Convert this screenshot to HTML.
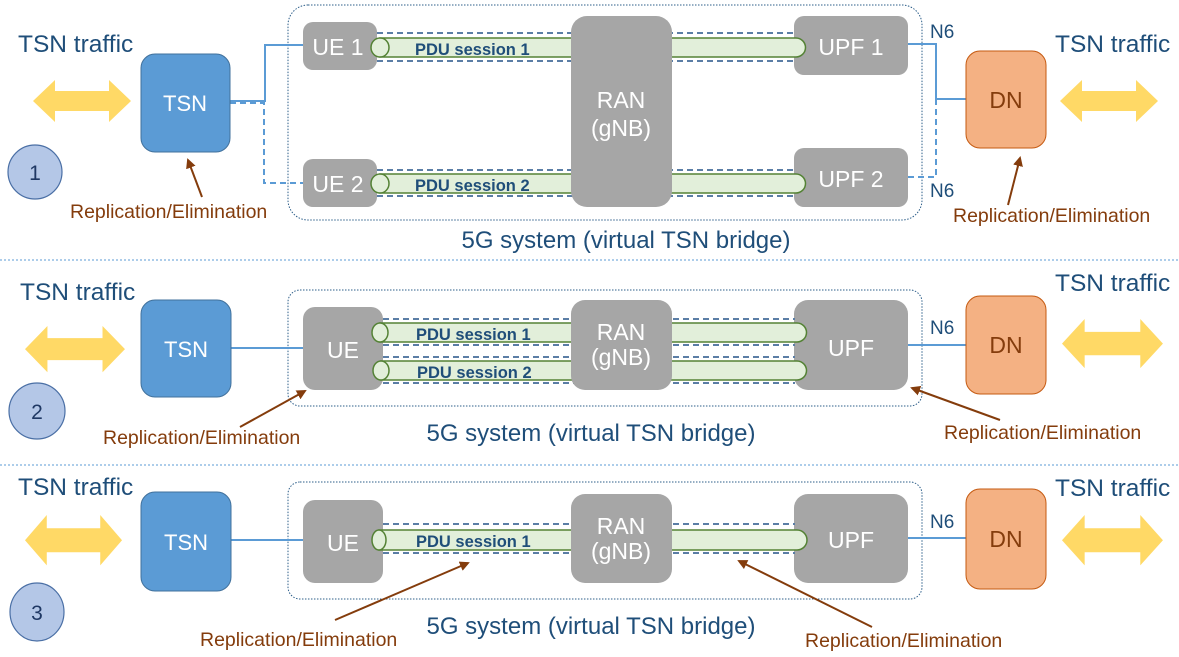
<!DOCTYPE html>
<html><head><meta charset="utf-8"><style>html,body{margin:0;padding:0;background:#fff}svg{display:block}text{font-family:"Liberation Sans",sans-serif}</style></head><body>
<svg width="1179" height="657" viewBox="0 0 1179 657" xmlns="http://www.w3.org/2000/svg">
<defs>
<marker id="ah" markerWidth="10" markerHeight="10" refX="8" refY="5" orient="auto" markerUnits="userSpaceOnUse"><path d="M0,0 L10,5 L0,10 z" fill="#843c0c"/></marker>
<g id="yarrow"><path d="M0,21 L22,0 L22,11 L76,11 L76,0 L98,21 L76,42 L76,31 L22,31 L22,42 z" fill="#ffd966"/></g>
</defs>
<g fill="#1f4e79" font-size="24.5">
<text x="18" y="52">TSN traffic</text><text x="1055" y="52">TSN traffic</text>
<text x="20" y="300">TSN traffic</text><text x="1055" y="291">TSN traffic</text>
<text x="18" y="495">TSN traffic</text><text x="1055" y="496">TSN traffic</text>
</g>
<use href="#yarrow" transform="translate(33,80)"/>
<use href="#yarrow" transform="translate(1060,80)"/>
<use href="#yarrow" transform="translate(25,326) scale(1.02,1.1)"/>
<use href="#yarrow" transform="translate(1062,319) scale(1.03,1.17)"/>
<use href="#yarrow" transform="translate(25,515) scale(0.99,1.2)"/>
<use href="#yarrow" transform="translate(1062,515) scale(1.03,1.2)"/>
<g fill="#b4c7e7" stroke="#4a6fa5" stroke-width="1.2">
<circle cx="35" cy="172" r="27"/><circle cx="37" cy="411" r="28"/><ellipse cx="37" cy="612" rx="27" ry="29"/>
</g>
<g fill="#1f3864" font-size="21" text-anchor="middle"><text x="35" y="180">1</text><text x="37" y="419">2</text><text x="37" y="620">3</text></g>
<g stroke="#5b9bd5" stroke-width="1" stroke-dasharray="2,2"><line x1="0" y1="260" x2="1179" y2="260"/><line x1="0" y1="465" x2="1179" y2="465"/></g>
<g fill="none" stroke="#2e5f8a" stroke-width="1" stroke-dasharray="1.5,1.5">
<rect x="288" y="5" width="634" height="215" rx="20"/>
<rect x="288" y="290" width="634" height="116" rx="12"/>
<rect x="288" y="482" width="634" height="117" rx="12"/>
</g>
<g fill="none" stroke="#5b9bd5" stroke-width="2">
<polyline points="230,101 265,101 265,45 303,45"/>
<polyline points="230,103 264,103 264,183 303,183" stroke-dasharray="6,4"/>
<polyline points="908,44 936,44 936,99 966,99"/>
<polyline points="908,177 936,177 936,100" stroke-dasharray="6,4"/>
<line x1="231" y1="348" x2="303" y2="348"/>
<line x1="908" y1="345" x2="966" y2="345"/>
<line x1="231" y1="540" x2="303" y2="540"/>
<line x1="908" y1="538" x2="966" y2="538"/>
</g>
<!-- UE / UPF nodes (under tubes) -->
<g fill="#a6a6a6">
<rect x="303" y="22" width="74" height="48" rx="10"/>
<rect x="303" y="159" width="74" height="48" rx="10"/>
<rect x="794" y="16" width="114" height="59" rx="10"/>
<rect x="794" y="148" width="114" height="59" rx="10"/>
<rect x="303" y="307" width="80" height="83" rx="12"/>
<rect x="794" y="300" width="114" height="90" rx="14"/>
<rect x="303" y="500" width="80" height="83" rx="12"/>
<rect x="794" y="494" width="114" height="89" rx="14"/>
</g>
<g stroke="#5b7ea6" stroke-width="2" stroke-dasharray="6,4">
<line x1="377" y1="33" x2="795" y2="33"/><line x1="377" y1="61" x2="795" y2="61"/>
<line x1="377" y1="170" x2="795" y2="170"/><line x1="377" y1="196" x2="795" y2="196"/>
<line x1="383" y1="319" x2="795" y2="319"/><line x1="383" y1="345" x2="795" y2="345"/>
<line x1="383" y1="357" x2="795" y2="357"/><line x1="383" y1="383" x2="795" y2="383"/>
<line x1="383" y1="524" x2="795" y2="524"/><line x1="383" y1="553" x2="795" y2="553"/>
</g>
<g fill="#e2efda" stroke="#548235" stroke-width="1.5">
<path d="M380,38 L796,38 A9.5,9.5 0 0 1 796,57 L380,57 z"/>
<path d="M380,174 L796,174 A9.5,9.5 0 0 1 796,193 L380,193 z"/>
<path d="M380,323 L797,323 A9.5,9.5 0 0 1 797,342 L380,342 z"/>
<path d="M381,361 L797,361 A9.5,9.5 0 0 1 797,380 L381,380 z"/>
<path d="M379,530 L797,530 A10,10 0 0 1 797,550 L379,550 z"/>
<ellipse cx="380" cy="47.5" rx="9" ry="9.5"/>
<ellipse cx="380" cy="183.5" rx="9" ry="9.5"/>
<ellipse cx="380" cy="332.5" rx="8" ry="9.5"/>
<ellipse cx="381" cy="370.5" rx="8" ry="9.5"/>
<ellipse cx="379" cy="540" rx="7" ry="10"/>
</g>
<g fill="#a6a6a6">
<rect x="571" y="16" width="101" height="191" rx="16"/>
<rect x="571" y="300" width="101" height="90" rx="14"/>
<rect x="571" y="494" width="101" height="89" rx="14"/>
</g>
<g fill="#1f4e79" font-size="16.5" font-weight="bold">
<text x="415" y="55">PDU session 1</text><text x="415" y="191">PDU session 2</text>
<text x="416" y="340">PDU session 1</text><text x="417" y="378">PDU session 2</text>
<text x="416" y="547">PDU session 1</text>
</g>
<g fill="#5b9bd5" stroke="#41719c" stroke-width="1">
<rect x="141" y="54" width="89" height="98" rx="14"/>
<rect x="141" y="300" width="90" height="97" rx="14"/>
<rect x="141" y="492" width="90" height="99" rx="14"/>
</g>
<g fill="#fff" font-size="22" text-anchor="middle">
<text x="185" y="111">TSN</text><text x="186" y="357">TSN</text><text x="186" y="550">TSN</text>
</g>
<g fill="#fff" font-size="23" text-anchor="middle">
<text x="338" y="55">UE 1</text><text x="338" y="192">UE 2</text>
<text x="621" y="108">RAN</text><text x="621" y="136">(gNB)</text>
<text x="851" y="55">UPF 1</text><text x="851" y="187">UPF 2</text>
<text x="343" y="358">UE</text><text x="621" y="340">RAN</text><text x="621" y="365">(gNB)</text><text x="851" y="356">UPF</text>
<text x="343" y="551">UE</text><text x="621" y="534">RAN</text><text x="621" y="559">(gNB)</text><text x="851" y="548">UPF</text>
</g>
<g fill="#f4b183" stroke="#c55a11" stroke-width="1">
<rect x="966" y="51" width="80" height="97" rx="14"/>
<rect x="966" y="296" width="80" height="98" rx="14"/>
<rect x="966" y="489" width="80" height="100" rx="14"/>
</g>
<g fill="#843c0c" font-size="23" text-anchor="middle">
<text x="1006" y="108">DN</text><text x="1006" y="353">DN</text><text x="1006" y="547">DN</text>
</g>
<g fill="#1f4e79" font-size="19"><text x="930" y="38">N6</text><text x="930" y="197">N6</text><text x="930" y="334">N6</text><text x="930" y="528">N6</text></g>
<g fill="#1f4e79" font-size="24" text-anchor="middle">
<text x="626" y="248">5G system (virtual TSN bridge)</text>
<text x="591" y="441">5G system (virtual TSN bridge)</text>
<text x="591" y="634">5G system (virtual TSN bridge)</text>
</g>
<g fill="#843c0c" font-size="19.5">
<text x="70" y="218">Replication/Elimination</text><text x="953" y="222">Replication/Elimination</text>
<text x="103" y="444">Replication/Elimination</text><text x="944" y="439">Replication/Elimination</text>
<text x="200" y="646">Replication/Elimination</text><text x="805" y="647">Replication/Elimination</text>
</g>
<g stroke="#843c0c" stroke-width="2" marker-end="url(#ah)">
<line x1="202" y1="197" x2="188" y2="160"/>
<line x1="1008" y1="205" x2="1020" y2="158"/>
<line x1="240" y1="427" x2="305" y2="391"/>
<line x1="1000" y1="420" x2="912" y2="388"/>
<line x1="335" y1="620" x2="468" y2="563"/>
<line x1="872" y1="627" x2="739" y2="561"/>
</g>
</svg>
</body></html>
